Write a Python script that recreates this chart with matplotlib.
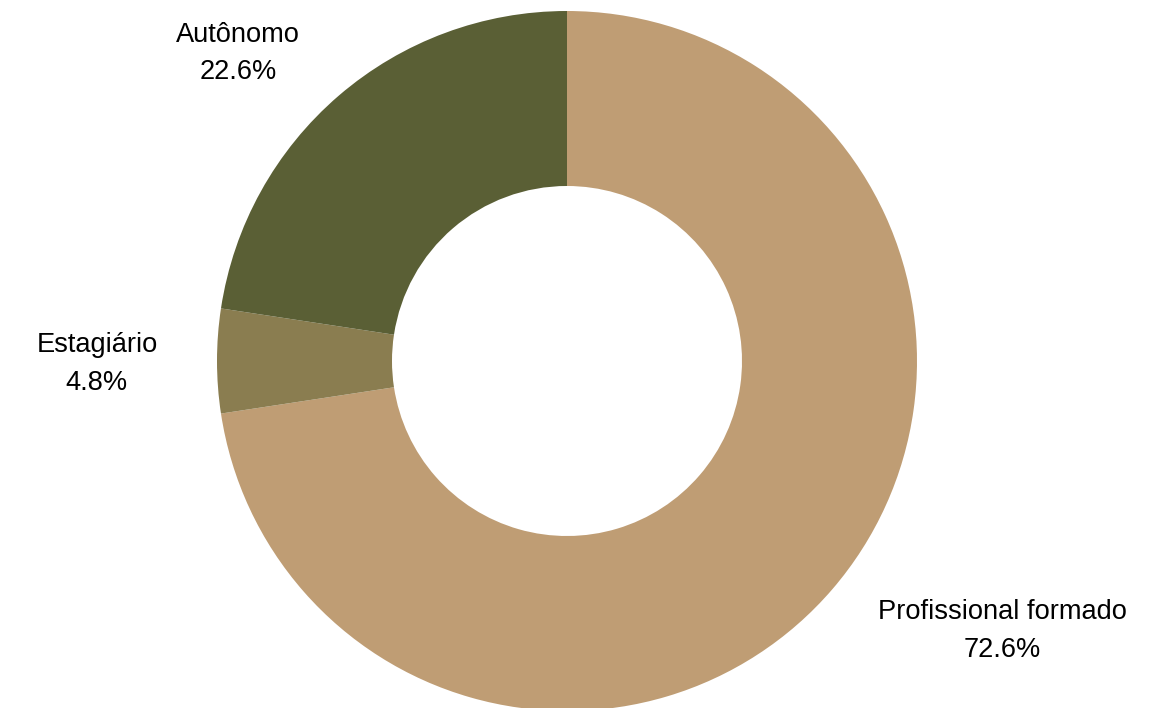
import matplotlib.pyplot as plt
import matplotlib.transforms as mtransforms

categories = ["Profissional formado", "Estagiário", "Autônomo"]
shares = [72.6, 4.8, 22.6]
colors = ["#BF9D74", "#8A7D50", "#5A5F35"]

plt.rcParams['font.family'] = ['Liberation Sans', 'DejaVu Sans']

fig = plt.figure(figsize=(11.68, 7.08), dpi=100)
ax = fig.add_axes([0, 0, 1, 1])

cx, cy = 567, 347
labels = [f"{c}\n{v}%" for c, v in zip(categories, shares)]
wedges, texts = ax.pie(shares, labels=labels, colors=colors, startangle=90,
                       counterclock=False, radius=350, center=(cx, cy),
                       labeldistance=1.17,
                       wedgeprops=dict(width=175, linewidth=0),
                       textprops=dict(fontsize=19.6, color="black"))
# nudge labels a little down to match the original
shift = mtransforms.offset_copy(ax.transData, fig=fig, x=0, y=-3, units="dots")
for t in texts:
    x, y = t.get_position()
    t.set_horizontalalignment("left" if x > cx else "right")
    t.set_verticalalignment("center")
    t.set_multialignment("center")
    t.set_linespacing(1.57)
    t.set_transform(shift)

ax.set_xlim(0, 1168)
ax.set_ylim(0, 708)
ax.set_aspect("equal")
ax.axis("off")

fig.savefig("out.png", dpi=100)
